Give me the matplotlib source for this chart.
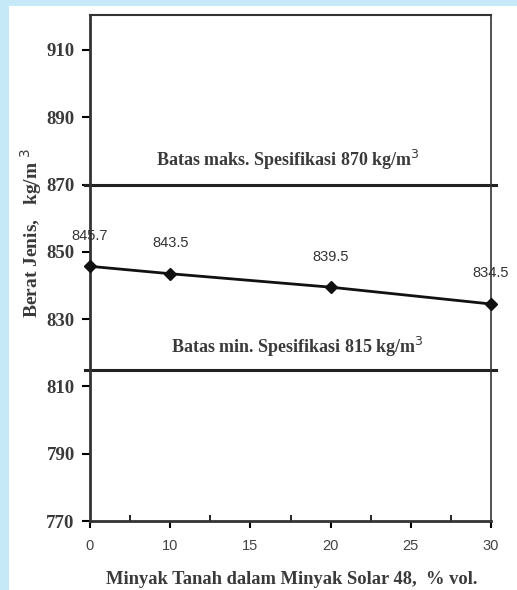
import matplotlib
matplotlib.use("Agg")
import matplotlib.pyplot as plt
import numpy as np
from matplotlib.patches import Rectangle

# data
x_tick_values = [0, 10, 15, 20, 25, 30]
x_pct = [0, 10, 20, 30]
density = [845.7, 843.5, 839.5, 834.5]
point_labels = ["845.7", "843.5", "839.5", "834.5"]
y_ticks = [770, 790, 810, 830, 850, 870, 890, 910]
spec_max = 870
spec_min = 815

W, H = 517, 590
fig = plt.figure(figsize=(W / 100, H / 100), dpi=100)
fig.patch.set_facecolor("#c6e9f8")
bg = Rectangle((9 / W, 0), 1 - 9 / W, 1 - 6 / H, transform=fig.transFigure,
               facecolor="white", edgecolor="none", zorder=-10)
fig.add_artist(bg)

L, R, T, B = 90, 491, 15, 521
ax = fig.add_axes([L / W, 1 - B / H, (R - L) / W, (B - T) / H])
ax.set_zorder(1)
ax.set_facecolor("white")

tick_pos = np.arange(len(x_tick_values))
px = np.interp(x_pct, x_tick_values, tick_pos)

ax.set_xlim(0, len(x_tick_values) - 1)
ax.set_ylim(770, 920.4)

ax.plot([-0.06, 5.06], [spec_max, spec_max], color="#222222", lw=2.2, zorder=2, clip_on=False)
ax.plot([-0.06, 5.06], [spec_min, spec_min], color="#222222", lw=2.2, zorder=2, clip_on=False)
ax.plot(px, density, color="#111111", lw=2, marker="D", ms=6.5, zorder=3, clip_on=False)

for xp, yv, lab in zip(px, density, point_labels):
    ax.annotate(lab, (xp, yv), xytext=(0, 22), textcoords="offset points",
                ha="center", va="center", fontsize=10.5,
                family="Liberation Sans", color="#333333")

serif = dict(family="Liberation Serif", fontweight="bold", color="#3a3a3a")
ax.text(2.47, 877.3, "Batas maks. Spesifikasi 870 kg/m$^3$", ha="center", va="center",
        fontsize=13, **serif)
ax.text(2.58, 821.7, "Batas min. Spesifikasi 815 kg/m$^3$", ha="center", va="center",
        fontsize=13, **serif)

ax.set_xticks(tick_pos)
ax.set_xticklabels([str(v) for v in x_tick_values], family="Liberation Sans", fontsize=10.5,
                   color="#444444")
ax.set_xticks(tick_pos[:-1] + 0.5, minor=True)
ax.tick_params(axis="x", which="major", direction="out", length=5, width=1.5, pad=8)
ax.tick_params(axis="x", which="minor", direction="in", length=4, width=1.2)

ax.set_yticks(y_ticks)
ax.set_yticklabels([str(v) for v in y_ticks], fontsize=13.5, **serif)
ax.tick_params(axis="y", direction="out", length=6, width=1.5, pad=5)

for s in ax.spines.values():
    s.set_color("#333333")
for s in ["left", "bottom"]:
    ax.spines[s].set_linewidth(2)
ax.spines["top"].set_linewidth(1.5)
ax.spines["right"].set_linewidth(1.2)

ax.set_ylabel("Berat Jenis,   kg/m $^3$", fontsize=14, **serif)
ax.yaxis.set_label_coords(-0.115, 0.569)
ax.set_xlabel("Minyak Tanah dalam Minyak Solar 48,  % vol.", fontsize=13.3, **serif)
ax.xaxis.set_label_coords(0.504, -0.099)

fig.savefig("out.png", dpi=100, facecolor=fig.get_facecolor())
